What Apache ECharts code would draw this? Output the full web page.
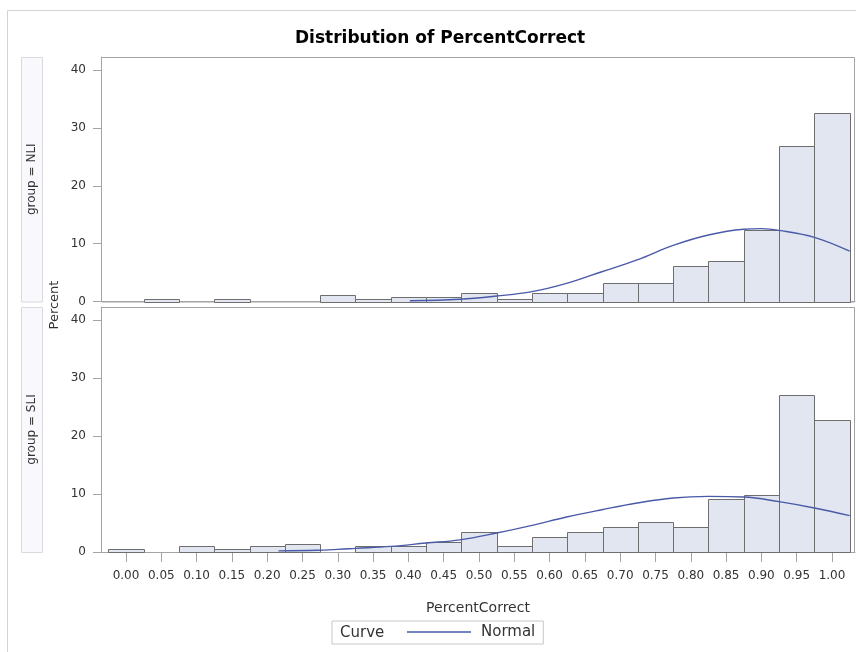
<!DOCTYPE html>
<html>
<head>
<meta charset="utf-8">
<script src="https://cdn.jsdelivr.net/npm/echarts@6/dist/echarts.min.js"></script>
<style>
  html, body { margin: 0; padding: 0; background: #fff; }
  #chart { width: 856px; height: 652px; }
</style>
</head>
<body>
<div id="chart"></div>
<script>
// Bin midpoints of the PercentCorrect histogram and their axis labels
const binMids = [0.00, 0.05, 0.10, 0.15, 0.20, 0.25, 0.30, 0.35, 0.40, 0.45, 0.50,
                 0.55, 0.60, 0.65, 0.70, 0.75, 0.80, 0.85, 0.90, 0.95, 1.00];
const tickLabels = ['0.00', '0.05', '0.10', '0.15', '0.20', '0.25', '0.30', '0.35', '0.40', '0.45', '0.50',
                    '0.55', '0.60', '0.65', '0.70', '0.75', '0.80', '0.85', '0.90', '0.95', '1.00'];
const binWidth = 0.05;

// Percent of observations per bin
const nliPercent = [0, 0.47, 0, 0.47, 0, 0, 1.17, 0.47, 0.70, 0.70, 1.41,
                    0.47, 1.41, 1.41, 3.28, 3.28, 6.12, 7.05, 12.45, 26.9, 32.65];
const sliPercent = [0.5, 0, 0.97, 0.5, 0.97, 1.46, 0, 0.97, 0.97, 1.7, 3.5,
                    0.97, 2.6, 3.5, 4.3, 5.2, 4.3, 9.2, 9.9, 27.15, 22.75];

// Fitted normal curves (x, percent)
const nliNormalX = [0.402, 0.473, 0.525, 0.575, 0.624, 0.674, 0.724, 0.775, 0.825, 0.875, 0.900, 0.925, 0.975, 1.025];
const nliNormalY = [0.14, 0.40, 0.95, 1.70, 3.14, 5.15, 7.2, 9.7, 11.5, 12.5, 12.6, 12.3, 11.1, 8.7];
const sliNormalX = [0.216, 0.270, 0.300, 0.325, 0.375, 0.425, 0.473, 0.525, 0.575, 0.624, 0.674, 0.724, 0.775, 0.825, 0.875, 0.925, 0.975, 1.025];
const sliNormalY = [0.2, 0.3, 0.45, 0.62, 0.97, 1.55, 2.1, 3.28, 4.6, 6.04, 7.3, 8.46, 9.33, 9.6, 9.5, 8.69, 7.6, 6.27];

const yTicks = [0, 10, 20, 30, 40];
const groupNames = ['group = NLI', 'group = SLI'];

const FONT = 'DejaVu Sans';
const FRAME = '#a4a4a4';
const TEXT = '#333333';
const BAR_FILL = '#e1e6f0';
const BAR_EDGE = '#6e6e6e';
const CURVE = '#4a5aa8';

const X_MIN = -0.0354, X_MAX = 1.0326, Y_MAX = 42.3;

function zipPairs(xs, ys) { return xs.map((x, i) => [x, ys[i]]); }

function histItem(params, api) {
  const mid = api.value(0), pct = api.value(1);
  if (!(pct > 0)) return null;
  const p0 = api.coord([mid - binWidth / 2, pct]);
  const p1 = api.coord([mid + binWidth / 2, 0]);
  return {
    type: 'rect',
    shape: { x: Math.round(p0[0]) + 0.5, y: Math.round(p0[1]) + 0.5,
             width: Math.round(p1[0]) - Math.round(p0[0]), height: Math.round(p1[1]) - Math.round(p0[1]) },
    style: { fill: BAR_FILL, stroke: BAR_EDGE, lineWidth: 1 }
  };
}

const grids = [
  { left: 101, top: 57, width: 754, height: 244.5 },
  { left: 101, top: 307, width: 754, height: 245 }
];

function xAxisFor(idx) {
  const bottom = idx === 1;
  return {
    type: 'value', gridIndex: idx, min: X_MIN, max: X_MAX,
    axisLine: { show: true, onZero: false, lineStyle: { color: FRAME, width: 1 } },
    splitLine: { show: false },
    axisTick: { show: bottom, length: 10, customValues: binMids, lineStyle: { color: FRAME } },
    axisLabel: {
      show: bottom, customValues: binMids, margin: 18,
      color: TEXT, fontFamily: FONT, fontSize: 12,
      formatter: v => { const i = binMids.findIndex(b => Math.abs(b - v) < 1e-6); return i >= 0 ? tickLabels[i] : ''; }
    },
    name: bottom ? 'PercentCorrect' : '',
    nameLocation: 'middle', nameGap: 49,
    nameTextStyle: { color: TEXT, fontFamily: FONT, fontSize: 14 }
  };
}

function yAxisFor(idx) {
  return {
    type: 'value', gridIndex: idx, min: 0, max: Y_MAX,
    axisLine: { show: true, onZero: false, lineStyle: { color: FRAME } },
    axisTick: { show: true, length: 8, customValues: yTicks, lineStyle: { color: FRAME } },
    axisLabel: { customValues: yTicks, margin: 15, color: TEXT, fontFamily: FONT, fontSize: 12 },
    splitLine: { show: false }
  };
}

const chart = echarts.init(document.getElementById('chart'), null, { renderer: 'canvas' });

const graphics = [
  // outer border of the figure
  { type: 'rect', shape: { x: 7.5, y: 10.5, width: 870, height: 680 },
    style: { fill: 'none', stroke: '#d3d3d3', lineWidth: 1 }, z: 0 },
  // panel frames (top and right sides)
  ...grids.map(g => ({ type: 'rect', shape: { x: g.left + 0.5, y: g.top + 0.5, width: g.width - 1, height: g.height },
    style: { fill: 'none', stroke: FRAME, lineWidth: 1 }, z: 1 })),
  // group strips
  ...grids.map((g, i) => ({ type: 'rect', shape: { x: 21.5, y: g.top + 0.5, width: 21, height: g.height },
    style: { fill: '#f8f8fd', stroke: '#d8d8de', lineWidth: 1 } })),
  ...grids.map((g, i) => ({ type: 'text', x: 32, y: g.top + g.height / 2, rotation: Math.PI / 2,
    style: { text: groupNames[i], fill: TEXT, font: '12px "' + FONT + '"', textAlign: 'center', textVerticalAlign: 'middle' } })),
  // shared y-axis title
  { type: 'text', x: 55, y: 305, rotation: Math.PI / 2,
    style: { text: 'Percent', fill: TEXT, font: '13px "' + FONT + '"', textAlign: 'center', textVerticalAlign: 'middle' } },
  // legend label
  { type: 'text', x: 340, y: 633,
    style: { text: 'Curve', fill: TEXT, font: '15px "' + FONT + '"', textAlign: 'left', textVerticalAlign: 'middle' } }
];

chart.setOption({
  animation: false,
  backgroundColor: '#ffffff',
  title: {
    text: 'Distribution of PercentCorrect', left: 295, top: 30, padding: 0,
    textStyle: { fontFamily: FONT, fontSize: 17, fontWeight: 'bold', color: '#000' }
  },
  legend: {
    data: ['Normal'], left: 332, top: 621,
    padding: [2, 8, 3, 75],
    borderColor: '#c8c8c8', borderWidth: 1,
    icon: 'rect', itemWidth: 64, itemHeight: 1.4,
    itemStyle: { color: CURVE },
    textStyle: { fontFamily: FONT, fontSize: 15, color: TEXT, padding: [0, 0, 0, 5], lineHeight: 18 }
  },
  grid: grids,
  xAxis: [xAxisFor(0), xAxisFor(1)],
  yAxis: [yAxisFor(0), yAxisFor(1)],
  graphic: graphics,
  series: [
    { type: 'custom', name: 'NLI', xAxisIndex: 0, yAxisIndex: 0, renderItem: histItem,
      data: zipPairs(binMids, nliPercent), z: 2 },
    { type: 'custom', name: 'SLI', xAxisIndex: 1, yAxisIndex: 1, renderItem: histItem,
      data: zipPairs(binMids, sliPercent), z: 2 },
    { type: 'line', name: 'Normal', xAxisIndex: 0, yAxisIndex: 0, data: zipPairs(nliNormalX, nliNormalY),
      symbol: 'none', smooth: 0.4, lineStyle: { color: CURVE, width: 1.4 }, itemStyle: { color: CURVE }, z: 3 },
    { type: 'line', name: 'Normal', xAxisIndex: 1, yAxisIndex: 1, data: zipPairs(sliNormalX, sliNormalY),
      symbol: 'none', smooth: 0.4, lineStyle: { color: CURVE, width: 1.4 }, itemStyle: { color: CURVE }, z: 3 }
  ]
});
</script>
</body>
</html>
